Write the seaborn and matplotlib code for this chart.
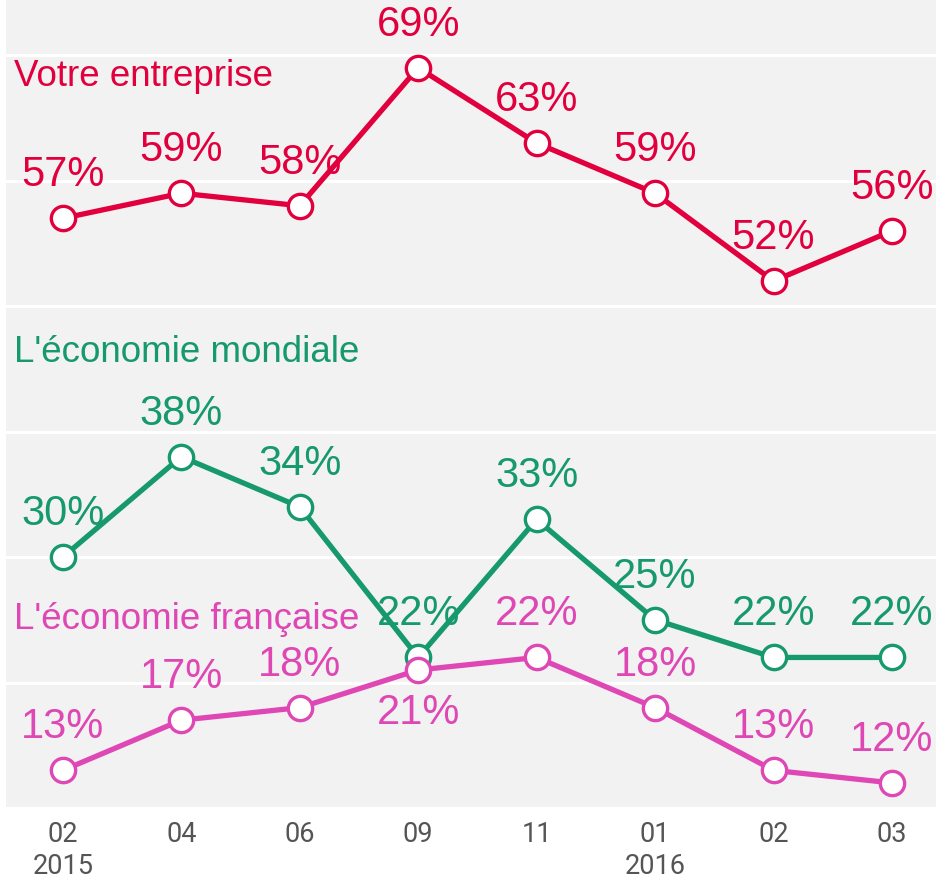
import numpy as np
import pandas as pd
import matplotlib
matplotlib.use("Agg")
import matplotlib.pyplot as plt
import seaborn as sns

# ── data ──
months = ["02\n2015", "04", "06", "09", "11", "01\n2016", "02", "03"]
series_names = ["Votre entreprise", "L'économie mondiale", "L'économie française"]
entreprise = [57, 59, 58, 69, 63, 59, 52, 56]
mondiale = [30, 38, 34, 22, 33, 25, 22, 22]
francaise = [13, 17, 18, 21, 22, 18, 13, 12]

colors = {
    "Votre entreprise": "#E1003D",
    "L'économie mondiale": "#16996C",
    "L'économie française": "#DE47B4",
}
# where each series name is written (y in data units)
title_y = {"Votre entreprise": 68.3, "L'économie mondiale": 46.3, "L'économie française": 25.0}
# labels drawn below the point instead of above
below = {("L'économie française", 3)}

df = pd.concat([
    pd.DataFrame({"x": range(len(months)), "value": vals, "series": name})
    for name, vals in zip(series_names, [entreprise, mondiale, francaise])
])

sns.set_style("white")
plt.rcParams["font.family"] = ["Liberation Sans", "DejaVu Sans"]

fig = plt.figure(figsize=(9.37, 8.8), dpi=100)
ax = fig.add_axes([6 / 937, 1 - 808 / 880, 931 / 937, 808 / 880])
ax.set_facecolor("#F2F2F2")

sns.lineplot(data=df, x="x", y="value", hue="series", palette=colors,
             hue_order=series_names, linewidth=3.8, marker="o", markersize=17.5,
             markerfacecolor="white", markeredgewidth=2.4, legend=False, ax=ax,
             zorder=3)
# marker edge colour per series
for line, name in zip(ax.lines, series_names):
    line.set_markeredgecolor(colors[name])

for name, vals in zip(series_names, [entreprise, mondiale, francaise]):
    for i, v in enumerate(vals):
        dy = -31 if (name, i) in below else 31
        ax.annotate(f"{v}%", (i, v), xytext=(0, dy), textcoords="offset points",
                    ha="center", va="center", fontsize=30, color=colors[name],
                    zorder=4)
    ax.text(8 / 931, title_y[name], name, transform=ax.get_yaxis_transform(),
            ha="left", va="center", fontsize=26.5, color=colors[name])

ax.set_xlim(-0.48, 7.38)
ax.set_ylim(10, 74.4)
ax.set_yticks(np.arange(10, 71, 10))
ax.yaxis.grid(True, color="white", linewidth=2.2)
ax.set_axisbelow(True)
ax.tick_params(axis="y", left=False, labelleft=False)
ax.set_xticks(range(len(months)))
ax.set_xticklabels(months, fontsize=19.5, color="#555555", linespacing=1.28,
                   family=["Roboto", "Liberation Sans"])
ax.tick_params(axis="x", length=0, pad=9)
ax.set_xlabel("")
ax.set_ylabel("")
for s in ax.spines.values():
    s.set_visible(False)

fig.savefig("out.png", dpi=100)
